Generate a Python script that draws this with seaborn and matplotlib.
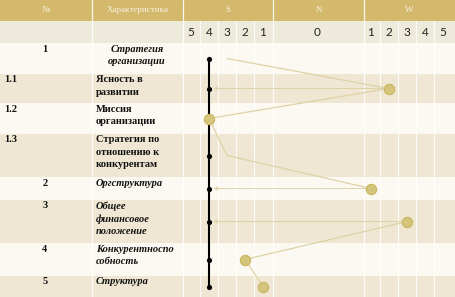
import numpy as np
import pandas as pd
import matplotlib
matplotlib.use("Agg")
import matplotlib.pyplot as plt
import seaborn as sns

# ---------------- data ----------------
headers = ["№", "Характеристика", "S", "N", "W"]
scale_labels = ["5", "4", "3", "2", "1", "0", "1", "2", "3", "4", "5"]
scale_sides = ["S", "S", "S", "S", "S", "N", "W", "W", "W", "W", "W"]
row_numbers = ["1", "1.1", "1.2", "1.3", "2", "3", "4", "5"]
row_texts = ["Стратегия\nорганизации", "Ясность в\nразвитии", "Миссия\nорганизации",
             "Стратегия по\nотношению к\nконкурентам", "Оргструктура",
             "Общее\nфинансовое\nположение", "Конкурентноспо\nсобность", "Структура"]
row_main = [True, False, False, False, True, True, True, True]
black_side = ["S", "S", "S", "S", "S", "S", "S", "S"]
black_value = [4, 4, 4, 4, 4, 4, 4, 4]
gold_side = ["S", "W", "S", "S", "W", "W", "S", "S"]
gold_value = [3, 2, 4, 3, 1, 3, 2, 1]
gold_segment = [1, 1, 1, 1, 1, 2, 2, 2]
gold_marker = [False, True, True, False, True, True, True, True]

# ---------------- layout (pixels) ----------------
W, H = 455, 297
col_edges = [0, 92, 183, 273, 364, 455]
row_edges = [0, 21, 43, 74, 103, 134, 177, 200, 243, 276, 297]
PX0, PXS = 317, 18   # pixel of N=0 and pixels per scale step


def to_pos(side, v):
    if side == "N":
        return 0
    return -(v + 2) if side == "S" else (v + 2)


def p2px(p):
    return PX0 + PXS * p


row_top = row_edges[2:-1]
row_bot = row_edges[3:]
row_y = [(a + b) / 2 for a, b in zip(row_top, row_bot)]

df_black = pd.DataFrame({"pos": [to_pos(s, v) for s, v in zip(black_side, black_value)],
                         "y": row_y})
df_gold = pd.DataFrame({"pos": [to_pos(s, v) for s, v in zip(gold_side, gold_value)],
                        "y": row_y, "seg": gold_segment, "mk": gold_marker})
scale_pos = [to_pos(s, int(l)) for s, l in zip(scale_sides, scale_labels)]

# ---------------- figure ----------------
sns.set_theme(style="white")
plt.rcParams["font.family"] = ["Liberation Serif", "DejaVu Serif"]
fig = plt.figure(figsize=(W / 100, H / 100), dpi=100)
fig.patch.set_facecolor("#fbf9f1")
axb = fig.add_axes([0, 0, 1, 1])
axb.set_xlim(0, W)
axb.set_ylim(H, 0)
axb.axis("off")

HEAD = "#d4b96c"
SCALE = "#eeeadb"
LIGHT = "#fbf9f1"
BEIGE = "#efe7d3"

# header row
axb.add_patch(plt.Rectangle((0, 0), W, row_edges[1], color=HEAD, lw=0))
# scale row
axb.add_patch(plt.Rectangle((0, row_edges[1]), W, row_edges[2] - row_edges[1], color=SCALE, lw=0))
# data rows
for i, (a, b) in enumerate(zip(row_top, row_bot)):
    axb.add_patch(plt.Rectangle((0, a), W, b - a, color=(LIGHT if i % 2 == 0 else BEIGE), lw=0))

# column separators
for x in col_edges[1:-1]:
    axb.plot([x, x], [0, H], color="white", lw=0.9, alpha=0.9)
sub_px = [p2px((scale_pos[i] + scale_pos[i + 1]) / 2) for i in range(len(scale_pos) - 1)
          if scale_sides[i] == scale_sides[i + 1]]
for x in sub_px:
    axb.plot([x, x], [row_edges[1], H], color="white", lw=0.8, alpha=0.85)

# header texts
for j, h in enumerate(headers):
    cx = (col_edges[j] + col_edges[j + 1]) / 2
    axb.text(cx, row_edges[1] / 2, h, ha="center", va="center", fontsize=6.5,
             color="#f7f1de")

# scale numbers
for p, lab in zip(scale_pos, scale_labels):
    axb.text(p2px(p), (row_edges[1] + row_edges[2]) / 2 + 1, lab, ha="center", va="center",
             fontsize=8.5, color="#222222", family=["Lato", "DejaVu Sans"])

# row texts
for i in range(len(row_numbers)):
    top = row_top[i] + 1.5
    if row_main[i]:
        axb.text(45, top, row_numbers[i], ha="center", va="top", fontsize=7.5,
                 fontweight="bold", color="#111111", linespacing=1.45)
        if i == 0:
            axb.text(137, top, row_texts[i], ha="center", va="top", fontsize=7.5,
                     fontweight="bold", style="italic", color="#111111",
                     linespacing=1.45, multialignment="center")
        else:
            axb.text(96, top, row_texts[i], ha="left", va="top", fontsize=7.5,
                     fontweight="bold", style="italic", color="#111111", linespacing=1.45)
    else:
        axb.text(4, top, row_numbers[i], ha="left", va="top", fontsize=7.5,
                 fontweight="bold", color="#111111", linespacing=1.45)
        axb.text(96, top, row_texts[i], ha="left", va="top", fontsize=7.5,
                 fontweight="bold", color="#111111", linespacing=1.45)

# ---------------- data axes ----------------
ax = fig.add_axes([0, 0, 1, 1])
ax.patch.set_alpha(0)
ax.set_xlim(-PX0 / PXS, (W - PX0) / PXS)
ax.set_ylim(H, 0)
ax.axis("off")

GOLD_LINE = "#ddd3a6"
GOLD_FILL = "#d5c47b"
GOLD_EDGE = "#c9b45e"

# arrows from gold points on W side to the black profile
for i in range(len(row_y)):
    if gold_side[i] == "W":
        ax.annotate("", xy=(df_black["pos"][i] + 0.25, row_y[i]),
                    xytext=(df_gold["pos"][i], row_y[i]),
                    arrowprops=dict(arrowstyle="->", color=GOLD_LINE, lw=0.7,
                                    shrinkA=4, shrinkB=0, mutation_scale=6))

# gold polyline
for seg, g in df_gold.groupby("seg"):
    sns.lineplot(data=g, x="pos", y="y", sort=False, estimator=None, ax=ax,
                 color=GOLD_LINE, lw=0.9, legend=False)

# black profile
sns.lineplot(data=df_black, x="pos", y="y", sort=False, estimator=None, ax=ax,
             color="black", lw=1.5, legend=False)
sns.scatterplot(data=df_black, x="pos", y="y", ax=ax, color="black", s=14,
                edgecolor="black", linewidth=0, legend=False, zorder=4)

# gold markers
sns.scatterplot(data=df_gold[df_gold["mk"]], x="pos", y="y", ax=ax, color=GOLD_FILL,
                s=55, edgecolor=GOLD_EDGE, linewidth=0.8, legend=False, zorder=5)

ax.set_xlabel("")
ax.set_ylabel("")
ax.set_xlim(-PX0 / PXS, (W - PX0) / PXS)
ax.set_ylim(H, 0)
ax.axis("off")

fig.savefig("out.png", dpi=100, facecolor=fig.get_facecolor())
